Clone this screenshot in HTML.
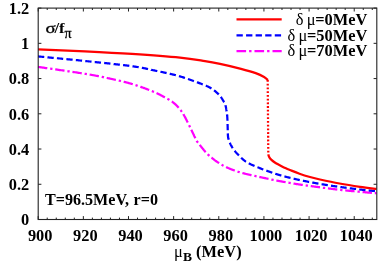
<!DOCTYPE html>
<html><head><meta charset="utf-8"><style>
html,body{margin:0;padding:0;background:#fff;}
svg{display:block;will-change:transform}
text{font-family:"Liberation Serif",serif;font-weight:bold;font-size:16.4px;fill:#000}
</style></head><body>
<svg width="382" height="267" viewBox="0 0 382 267">
<rect width="382" height="267" fill="#fff"/>
<g fill="none" stroke-width="2.25" stroke-linecap="butt">
<path d="M38.00 66.90 L38.62 66.99 L39.32 67.09 L40.07 67.20 L40.90 67.32 L41.78 67.45 L42.71 67.58 L43.70 67.72 L44.74 67.87 L45.83 68.03 L46.96 68.19 L47.30 68.24 M50.18 68.65 L50.58 68.71 L51.85 68.89 L52.45 68.97 M55.22 69.37 L55.82 69.46 L57.18 69.65 L58.55 69.85 L59.94 70.05 L61.33 70.25 L62.73 70.45 L64.13 70.66 L64.53 70.71 M67.40 71.13 L68.31 71.27 L69.67 71.47 M72.44 71.87 L73.70 72.06 L74.99 72.25 L76.26 72.44 L77.49 72.63 L78.69 72.81 L79.86 72.99 L80.98 73.16 L81.74 73.28 M84.60 73.74 L85.00 73.80 L85.89 73.94 L86.75 74.09 L86.87 74.11 M89.63 74.57 L89.97 74.63 L90.72 74.76 L91.46 74.88 L92.17 75.01 L92.87 75.13 L93.55 75.26 L94.21 75.38 L94.86 75.49 L95.50 75.61 L96.12 75.73 L96.73 75.84 L97.33 75.96 L97.91 76.07 L98.49 76.18 L98.88 76.26 M101.72 76.83 L101.81 76.85 L102.35 76.96 L102.88 77.07 L103.41 77.18 L103.94 77.29 L103.97 77.30 M106.71 77.89 L107.17 77.99 L107.72 78.11 L108.28 78.23 L108.84 78.35 L109.42 78.47 L110.00 78.60 L110.59 78.73 L111.17 78.85 L111.75 78.98 L112.33 79.11 L112.90 79.23 L113.47 79.36 L114.04 79.48 L114.61 79.61 L115.17 79.73 L115.73 79.86 L115.89 79.89 M118.72 80.54 L119.06 80.62 L119.61 80.74 L120.16 80.87 L120.71 81.00 L120.96 81.06 M123.68 81.73 L123.96 81.79 L124.49 81.93 L125.03 82.07 L125.57 82.21 L126.10 82.35 L126.64 82.49 L127.18 82.63 L127.71 82.78 L128.25 82.92 L128.78 83.07 L129.32 83.22 L129.85 83.37 L130.39 83.53 L130.93 83.68 L131.46 83.84 L132.00 84.00 L132.54 84.16 L132.74 84.23 M135.51 85.10 L135.85 85.21 L136.41 85.39 L136.97 85.58 L137.53 85.76 L137.69 85.82 M140.34 86.72 L140.34 86.72 L140.90 86.92 L141.46 87.12 L142.02 87.32 L142.57 87.51 L143.12 87.71 L143.67 87.91 L144.22 88.11 L144.76 88.31 L145.30 88.51 L145.83 88.71 L146.36 88.90 L146.88 89.10 L147.39 89.29 L147.90 89.49 L148.41 89.68 L148.90 89.87 L149.16 89.97 M151.86 91.04 L152.15 91.16 L152.58 91.33 L153.00 91.50 L153.41 91.67 L153.81 91.84 L153.99 91.91 M156.54 93.05 L156.75 93.15 L157.09 93.31 L157.42 93.47 L157.74 93.63 L158.06 93.79 L158.38 93.94 L158.69 94.10 L158.99 94.25 L159.29 94.41 L159.59 94.56 L159.88 94.71 L160.16 94.86 L160.44 95.01 L160.72 95.16 L160.99 95.31 L161.26 95.46 L161.53 95.60 L161.79 95.74 L162.05 95.89 L162.31 96.03 L162.56 96.17 L162.81 96.31 L163.06 96.45 L163.31 96.58 L163.56 96.72 L163.80 96.85 L164.04 96.98 L164.28 97.11 L164.52 97.24 L164.76 97.37 L164.86 97.43 M167.42 98.79 L167.50 98.83 L167.68 98.93 L167.86 99.02 L168.04 99.12 L168.21 99.21 L168.38 99.31 L168.55 99.40 L168.71 99.49 L168.88 99.59 L169.04 99.68 L169.20 99.77 L169.35 99.86 L169.43 99.91 M171.78 101.44 L171.84 101.48 L172.00 101.60 L172.16 101.72 L172.32 101.84 L172.48 101.96 L172.64 102.08 L172.80 102.19 L172.96 102.31 L173.11 102.43 L173.27 102.55 L173.42 102.67 L173.57 102.80 L173.73 102.92 L173.88 103.04 L174.03 103.16 L174.18 103.29 L174.33 103.41 L174.48 103.54 L174.63 103.66 L174.77 103.79 L174.92 103.92 L175.07 104.05 L175.22 104.18 L175.36 104.31 L175.51 104.45 L175.66 104.58 L175.80 104.72 L175.95 104.86 L176.09 105.00 L176.24 105.14 L176.38 105.28 L176.53 105.43 L176.68 105.58 L176.82 105.73 L176.97 105.88 L177.11 106.03 L177.26 106.19 L177.41 106.34 L177.56 106.50 L177.70 106.67 L177.85 106.83 L178.00 107.00 L178.15 107.17 L178.30 107.34 L178.44 107.50 L178.59 107.67 L178.68 107.78 M180.52 110.02 L180.57 110.07 L180.71 110.26 L180.85 110.44 L180.99 110.63 L181.13 110.83 L181.28 111.03 L181.42 111.23 L181.57 111.43 L181.71 111.64 L181.86 111.85 L181.88 111.88 M183.39 114.23 L183.40 114.26 L183.57 114.53 L183.73 114.81 L183.90 115.10 L184.07 115.40 L184.25 115.70 L184.42 116.02 L184.61 116.35 L184.79 116.69 L184.98 117.04 L185.17 117.40 L185.36 117.76 L185.56 118.14 L185.75 118.52 L185.95 118.91 L186.15 119.30 L186.35 119.70 L186.56 120.10 L186.76 120.50 L186.97 120.91 L187.17 121.33 L187.38 121.74 L187.58 122.16 L187.77 122.54 M189.04 125.15 L189.20 125.47 L189.39 125.88 L189.59 126.27 L189.78 126.67 L189.97 127.06 L190.05 127.22 M191.27 129.74 L191.35 129.89 L191.50 130.20 L191.65 130.50 L191.80 130.80 L191.94 131.10 L192.08 131.39 L192.22 131.67 L192.36 131.96 L192.49 132.23 L192.62 132.51 L192.75 132.78 L192.88 133.05 L193.00 133.31 L193.13 133.57 L193.25 133.82 L193.36 134.07 L193.48 134.32 L193.60 134.57 L193.71 134.81 L193.82 135.05 L193.93 135.28 L194.04 135.51 L194.14 135.74 L194.25 135.96 L194.35 136.19 L194.46 136.40 L194.56 136.62 L194.66 136.83 L194.76 137.04 L194.86 137.25 L194.96 137.45 L195.05 137.65 L195.15 137.85 L195.25 138.04 L195.33 138.21 M196.69 140.78 L196.70 140.81 L196.75 140.90 L196.80 140.99 L196.85 141.08 L196.90 141.17 L196.94 141.25 L196.99 141.33 L197.04 141.41 L197.08 141.48 L197.13 141.56 L197.18 141.64 L197.23 141.71 L197.28 141.79 L197.34 141.87 L197.40 141.96 L197.46 142.04 L197.52 142.13 L197.59 142.22 L197.66 142.32 L197.74 142.42 L197.82 142.52 L197.91 142.64 L197.95 142.69 M199.70 144.88 L199.86 145.08 L200.05 145.32 L200.25 145.57 L200.45 145.83 L200.66 146.09 L200.87 146.35 L201.08 146.62 L201.30 146.90 L201.53 147.18 L201.76 147.47 L201.99 147.76 L202.23 148.05 L202.47 148.35 L202.71 148.65 L202.96 148.95 L203.21 149.25 L203.46 149.55 L203.72 149.86 L203.97 150.17 L204.23 150.47 L204.50 150.78 L204.76 151.09 L205.03 151.39 L205.30 151.69 L205.57 152.00 L205.69 152.13 M207.69 154.23 L207.77 154.31 L208.05 154.58 L208.32 154.84 L208.60 155.10 L208.88 155.35 L209.16 155.61 L209.37 155.80 M211.50 157.62 L211.52 157.63 L211.83 157.88 L212.13 158.13 L212.44 158.38 L212.76 158.63 L213.07 158.87 L213.39 159.12 L213.70 159.36 L214.02 159.60 L214.34 159.84 L214.66 160.08 L214.98 160.32 L215.31 160.55 L215.63 160.79 L215.95 161.02 L216.28 161.25 L216.60 161.48 L216.93 161.70 L217.25 161.92 L217.58 162.14 L217.90 162.36 L218.22 162.58 L218.55 162.79 L218.87 163.00 L219.09 163.15 M221.56 164.67 L221.73 164.77 L222.04 164.95 L222.36 165.13 L222.67 165.31 L222.98 165.48 L223.30 165.65 L223.57 165.79 M226.07 167.04 L226.13 167.07 L226.45 167.21 L226.76 167.36 L227.08 167.50 L227.39 167.64 L227.71 167.78 L228.02 167.92 L228.34 168.06 L228.66 168.19 L228.97 168.33 L229.29 168.46 L229.60 168.59 L229.92 168.72 L230.23 168.85 L230.55 168.97 L230.86 169.10 L231.18 169.22 L231.49 169.35 L231.81 169.47 L232.12 169.59 L232.44 169.72 L232.75 169.84 L233.07 169.96 L233.38 170.08 L233.70 170.20 L234.01 170.32 L234.32 170.43 L234.61 170.54 L234.77 170.60 M237.50 171.57 L237.61 171.61 L237.88 171.70 L238.14 171.78 L238.41 171.87 L238.67 171.95 L238.94 172.04 L239.22 172.12 L239.50 172.20 L239.69 172.26 M242.39 173.01 L242.62 173.07 L242.98 173.16 L243.35 173.26 L243.73 173.36 L244.13 173.46 L244.53 173.56 L244.95 173.67 L245.39 173.77 L245.84 173.89 L246.30 174.00 L246.78 174.12 L247.29 174.24 L247.82 174.37 L248.38 174.50 L248.95 174.63 L249.55 174.77 L250.16 174.91 L250.78 175.05 L251.43 175.20 L251.53 175.22 M254.36 175.85 L254.82 175.95 L255.52 176.10 L256.23 176.26 L256.61 176.34 M259.34 176.93 L259.82 177.04 L260.53 177.19 L261.24 177.34 L261.95 177.49 L262.65 177.64 L263.34 177.79 L264.02 177.93 L264.69 178.08 L265.35 178.22 L265.99 178.35 L266.62 178.49 L267.24 178.62 L267.83 178.74 L268.41 178.86 L268.54 178.89 M271.37 179.49 L271.40 179.50 L271.81 179.59 L272.19 179.67 L272.55 179.75 L272.88 179.82 L273.19 179.88 L273.48 179.95 L273.62 179.98 M276.36 180.55 L276.44 180.56 L276.57 180.59 L276.70 180.61 L276.84 180.64 L276.99 180.66 L277.14 180.69 L277.30 180.72 L277.47 180.75 L277.65 180.78 L277.85 180.82 L278.05 180.86 L278.28 180.89 L278.52 180.94 L278.77 180.98 L279.05 181.03 L279.34 181.08 L279.66 181.14 L280.00 181.20 L280.36 181.26 L280.73 181.33 L281.11 181.40 L281.50 181.47 L281.91 181.54 L282.32 181.61 L282.75 181.69 L283.19 181.77 L283.63 181.84 L284.09 181.92 L284.55 182.01 L285.02 182.09 L285.49 182.17 L285.62 182.19 M288.48 182.69 L288.49 182.69 L289.01 182.78 L289.53 182.87 L290.05 182.96 L290.58 183.05 L290.74 183.08 M293.50 183.54 L293.77 183.58 L294.30 183.67 L294.83 183.76 L295.36 183.85 L295.89 183.93 L296.42 184.02 L296.94 184.10 L297.46 184.18 L297.98 184.26 L298.49 184.34 L299.00 184.42 L299.50 184.50 L300.00 184.58 L300.50 184.65 L301.01 184.73 L301.51 184.80 L302.02 184.88 L302.53 184.95 L302.79 184.99 M305.66 185.39 L306.12 185.46 L306.64 185.53 L307.16 185.60 L307.68 185.67 L307.94 185.71 M310.72 186.08 L310.79 186.09 L311.31 186.16 L311.82 186.23 L312.34 186.29 L312.86 186.36 L313.38 186.43 L313.89 186.50 L314.41 186.57 L314.92 186.63 L315.44 186.70 L315.95 186.77 L316.46 186.83 L316.97 186.90 L317.48 186.97 L317.99 187.03 L318.49 187.10 L319.00 187.17 L319.50 187.23 L320.00 187.30 L320.04 187.30 M322.91 187.69 L322.97 187.70 L323.46 187.76 L323.95 187.83 L324.44 187.89 L324.92 187.96 L325.19 187.99 M327.97 188.36 L328.31 188.41 L328.79 188.47 L329.27 188.54 L329.75 188.60 L330.23 188.66 L330.71 188.73 L331.19 188.79 L331.68 188.85 L332.16 188.91 L332.64 188.97 L333.12 189.04 L333.61 189.10 L334.09 189.16 L334.58 189.22 L335.06 189.28 L335.55 189.34 L336.04 189.40 L336.53 189.45 L337.02 189.51 L337.29 189.55 M340.17 189.87 L340.51 189.91 L341.02 189.97 L341.53 190.02 L342.04 190.08 L342.46 190.12 M345.24 190.41 L345.70 190.45 L346.23 190.50 L346.76 190.56 L347.29 190.61 L347.82 190.66 L348.35 190.71 L348.88 190.76 L349.41 190.81 L349.94 190.86 L350.47 190.91 L350.99 190.96 L351.52 191.01 L352.04 191.06 L352.56 191.11 L353.08 191.16 L353.60 191.20 L354.11 191.25 L354.60 191.30 M357.49 191.57 L357.62 191.58 L358.11 191.62 L358.59 191.67 L359.06 191.71 L359.53 191.76 L359.78 191.78 M362.57 192.04 L362.85 192.07 L363.33 192.11 L363.82 192.16 L364.31 192.20 L364.79 192.25 L365.28 192.29 L365.76 192.33 L366.25 192.38 L366.73 192.42 L367.21 192.47 L367.68 192.51 L368.15 192.55 L368.62 192.59 L369.08 192.63 L369.53 192.68 L369.98 192.72 L370.42 192.75 L370.85 192.79 L371.28 192.83 L371.70 192.87 L371.93 192.89 M374.82 193.15 L374.96 193.16 L375.25 193.19 L375.54 193.21 L375.80 193.24 L376.05 193.26 L376.28 193.28 L376.50 193.30 " stroke="#ff00ff"/>
<path d="M38.00 56.40 L38.62 56.46 L39.29 56.53 L40.02 56.60 L40.80 56.67 L41.63 56.75 L42.50 56.83 L43.43 56.92 L44.27 57.00 M47.46 57.31 L47.53 57.32 L48.65 57.42 L49.80 57.53 L50.97 57.65 L52.18 57.76 L53.42 57.88 L53.73 57.91 M56.91 58.22 L57.25 58.25 L58.56 58.38 L59.89 58.50 L61.23 58.63 L62.58 58.76 L63.18 58.82 M66.37 59.13 L66.68 59.16 L68.05 59.30 L69.42 59.43 L70.79 59.57 L72.15 59.70 L72.64 59.75 M75.82 60.07 L76.18 60.10 L77.50 60.23 L78.80 60.36 L80.09 60.50 L81.35 60.62 L82.09 60.70 M85.27 61.03 L86.18 61.12 L87.38 61.25 L88.59 61.37 L89.81 61.50 L91.04 61.63 L91.54 61.68 M94.72 62.01 L94.78 62.01 L96.05 62.15 L97.31 62.28 L98.58 62.41 L99.86 62.54 L100.99 62.66 M104.17 62.99 L104.95 63.08 L106.22 63.21 L107.49 63.34 L108.75 63.48 L110.00 63.61 L110.44 63.66 M113.62 64.00 L113.71 64.02 L114.93 64.15 L116.13 64.28 L117.32 64.42 L118.50 64.55 L119.66 64.68 L119.88 64.70 M123.06 65.07 L124.14 65.20 L125.20 65.33 L126.25 65.46 L127.27 65.58 L128.27 65.71 L129.25 65.83 L129.31 65.84 M132.48 66.27 L132.86 66.32 L133.69 66.44 L134.49 66.55 L135.26 66.67 L136.01 66.78 L136.73 66.89 L137.43 67.00 L138.10 67.11 L138.71 67.21 M141.86 67.77 L142.29 67.85 L142.83 67.95 L143.36 68.05 L143.87 68.16 L144.38 68.26 L144.88 68.36 L145.37 68.47 L145.85 68.57 L146.33 68.67 L146.81 68.78 L147.28 68.88 L147.76 68.99 L148.03 69.05 M151.15 69.75 L151.16 69.76 L151.67 69.87 L152.19 69.99 L152.73 70.11 L153.27 70.23 L153.83 70.35 L154.41 70.47 L155.00 70.60 L155.60 70.73 L156.20 70.85 L156.81 70.98 L157.31 71.09 M160.44 71.74 L160.49 71.75 L161.11 71.88 L161.73 72.01 L162.35 72.14 L162.98 72.27 L163.60 72.40 L164.23 72.54 L164.86 72.67 L165.48 72.81 L166.11 72.94 L166.60 73.05 M169.73 73.75 L169.90 73.79 L170.54 73.94 L171.17 74.09 L171.80 74.24 L172.44 74.39 L173.07 74.54 L173.70 74.70 L174.34 74.86 L174.97 75.02 L175.60 75.18 L175.85 75.25 M178.93 76.09 L179.37 76.22 L180.00 76.40 L180.63 76.59 L181.27 76.78 L181.92 76.98 L182.58 77.19 L183.24 77.40 L183.91 77.61 L184.59 77.83 L184.95 77.95 M187.98 78.97 L188.04 78.99 L188.74 79.23 L189.43 79.47 L190.13 79.72 L190.83 79.96 L191.52 80.21 L192.21 80.46 L192.89 80.70 L193.57 80.95 L193.92 81.08 M196.92 82.18 L197.52 82.41 L198.15 82.64 L198.76 82.88 L199.37 83.11 L199.96 83.33 L200.54 83.55 L201.10 83.77 L201.65 83.98 L202.18 84.19 L202.70 84.39 L202.81 84.43 M205.78 85.62 L205.78 85.62 L206.15 85.77 L206.49 85.91 L206.82 86.06 L207.14 86.19 L207.43 86.33 L207.72 86.46 L207.99 86.58 L208.24 86.70 L208.49 86.82 L208.72 86.93 L208.94 87.05 L209.15 87.15 L209.34 87.26 L209.53 87.36 L209.71 87.46 L209.88 87.56 L210.04 87.66 L210.20 87.75 L210.35 87.84 L210.49 87.93 L210.63 88.02 L210.76 88.11 L210.89 88.20 L211.02 88.28 L211.14 88.37 L211.27 88.45 L211.36 88.52 M214.01 90.30 L214.12 90.38 L214.24 90.47 L214.35 90.55 L214.46 90.63 L214.57 90.71 L214.67 90.79 L214.78 90.88 L214.88 90.96 L214.98 91.04 L215.08 91.11 L215.18 91.19 L215.27 91.27 L215.36 91.35 L215.46 91.43 L215.55 91.51 L215.64 91.59 L215.73 91.67 L215.82 91.74 L215.91 91.82 L216.00 91.90 L216.09 91.98 L216.18 92.06 L216.27 92.14 L216.36 92.22 L216.45 92.30 L216.54 92.38 L216.63 92.47 L216.72 92.55 L216.81 92.63 L216.91 92.72 L217.00 92.80 L217.09 92.88 L217.19 92.97 L217.28 93.05 L217.38 93.14 L217.47 93.22 L217.56 93.31 L217.65 93.39 L217.74 93.48 L217.83 93.56 L217.93 93.65 L218.01 93.73 L218.10 93.82 L218.19 93.90 L218.28 93.99 L218.37 94.08 L218.46 94.16 L218.54 94.25 L218.63 94.33 L218.71 94.42 L218.75 94.45 M220.84 96.87 L220.91 96.96 L220.97 97.06 L221.04 97.15 L221.11 97.25 L221.18 97.34 L221.25 97.44 L221.31 97.54 L221.38 97.64 L221.44 97.73 L221.51 97.83 L221.57 97.93 L221.64 98.03 L221.70 98.13 L221.76 98.22 L221.83 98.32 L221.89 98.42 L221.95 98.52 L222.01 98.63 L222.07 98.73 L222.14 98.83 L222.20 98.93 L222.26 99.03 L222.32 99.14 L222.38 99.24 L222.44 99.34 L222.51 99.45 L222.57 99.55 L222.63 99.66 L222.69 99.76 L222.75 99.87 L222.81 99.98 L222.88 100.08 L222.94 100.19 L223.00 100.30 L223.06 100.41 L223.13 100.51 L223.19 100.62 L223.25 100.72 L223.31 100.82 L223.38 100.92 L223.44 101.01 L223.50 101.11 L223.57 101.21 L223.63 101.30 L223.69 101.40 L223.76 101.49 L223.82 101.59 L223.88 101.68 L223.95 101.78 L224.01 101.88 L224.07 101.97 L224.13 102.07 L224.19 102.17 L224.21 102.19 M225.44 105.13 L225.45 105.19 L225.50 105.38 L225.55 105.58 L225.60 105.79 L225.65 106.00 L225.70 106.21 L225.75 106.43 L225.80 106.66 L225.85 106.89 L225.90 107.13 L225.95 107.37 L226.00 107.61 L226.05 107.86 L226.09 108.11 L226.14 108.36 L226.19 108.62 L226.23 108.88 L226.28 109.14 L226.32 109.40 L226.37 109.67 L226.41 109.94 L226.46 110.20 L226.50 110.47 L226.54 110.75 L226.58 111.02 L226.62 111.29 L226.63 111.31 M227.04 114.49 L227.04 114.49 L227.07 114.75 L227.10 115.00 L227.13 115.25 L227.15 115.50 L227.18 115.75 L227.20 116.00 L227.22 116.25 L227.24 116.50 L227.26 116.75 L227.28 117.00 L227.30 117.25 L227.31 117.50 L227.33 117.75 L227.34 118.00 L227.36 118.25 L227.37 118.50 L227.38 118.75 L227.40 119.00 L227.41 119.25 L227.42 119.50 L227.43 119.75 L227.44 120.00 L227.45 120.25 L227.46 120.50 L227.46 120.75 L227.46 120.77 M227.56 123.97 L227.56 124.00 L227.57 124.25 L227.58 124.50 L227.59 124.75 L227.60 125.00 L227.61 125.25 L227.62 125.51 L227.63 125.76 L227.64 126.02 L227.64 126.29 L227.65 126.55 L227.66 126.82 L227.67 127.09 L227.67 127.36 L227.68 127.63 L227.69 127.90 L227.69 128.17 L227.70 128.45 L227.70 128.72 L227.71 128.99 L227.72 129.26 L227.72 129.54 L227.73 129.81 L227.73 130.08 L227.74 130.27 M227.82 133.47 L227.83 133.58 L227.84 133.80 L227.84 134.01 L227.85 134.22 L227.87 134.43 L227.88 134.62 L227.89 134.82 L227.90 135.00 L227.91 135.18 L227.92 135.35 L227.94 135.51 L227.95 135.67 L227.96 135.83 L227.97 135.97 L227.98 136.12 L228.00 136.25 L228.01 136.38 L228.02 136.51 L228.03 136.64 L228.05 136.75 L228.06 136.87 L228.07 136.98 L228.08 137.09 L228.10 137.20 L228.11 137.30 L228.13 137.40 L228.14 137.50 L228.16 137.59 L228.17 137.69 L228.19 137.78 L228.20 137.87 L228.22 137.96 L228.24 138.05 L228.26 138.14 L228.28 138.23 L228.30 138.32 L228.32 138.41 L228.34 138.50 L228.36 138.60 L228.38 138.69 L228.41 138.78 L228.43 138.88 L228.46 138.98 L228.48 139.07 L228.51 139.18 L228.54 139.28 L228.57 139.39 L228.60 139.50 L228.63 139.61 L228.65 139.69 M229.78 142.68 L229.82 142.76 L229.87 142.88 L229.92 142.99 L229.97 143.10 L230.02 143.21 L230.08 143.32 L230.13 143.44 L230.18 143.55 L230.24 143.66 L230.29 143.78 L230.35 143.89 L230.40 144.00 L230.45 144.11 L230.51 144.22 L230.56 144.33 L230.62 144.45 L230.67 144.56 L230.73 144.67 L230.78 144.77 L230.84 144.88 L230.89 144.99 L230.95 145.10 L231.01 145.21 L231.06 145.32 L231.12 145.43 L231.18 145.54 L231.23 145.64 L231.29 145.75 L231.35 145.86 L231.41 145.97 L231.47 146.08 L231.53 146.19 L231.59 146.30 L231.66 146.41 L231.72 146.52 L231.78 146.63 L231.85 146.74 L231.92 146.85 L231.99 146.96 L232.06 147.08 L232.13 147.19 L232.20 147.30 L232.27 147.42 L232.35 147.54 L232.42 147.65 L232.50 147.77 L232.58 147.89 L232.66 148.01 L232.74 148.13 L232.79 148.21 M234.67 150.80 L234.76 150.90 L234.86 151.04 L234.97 151.17 L235.08 151.31 L235.19 151.44 L235.30 151.58 L235.41 151.72 L235.53 151.86 L235.65 152.00 L235.77 152.14 L235.90 152.29 L236.03 152.43 L236.16 152.58 L236.29 152.73 L236.43 152.88 L236.57 153.04 L236.72 153.19 L236.87 153.35 L237.02 153.51 L237.18 153.67 L237.34 153.83 L237.50 154.00 L237.67 154.17 L237.84 154.34 L238.01 154.52 L238.19 154.70 L238.37 154.89 L238.55 155.08 L238.74 155.27 L238.91 155.45 M241.17 157.71 L241.18 157.72 L241.40 157.93 L241.62 158.14 L241.85 158.35 L242.08 158.57 L242.31 158.78 L242.54 158.99 L242.78 159.19 L243.01 159.40 L243.25 159.61 L243.49 159.81 L243.74 160.02 L243.99 160.22 L244.23 160.42 L244.49 160.61 L244.74 160.81 L244.99 161.00 L245.25 161.18 L245.51 161.37 L245.77 161.55 L246.02 161.72 M248.79 163.33 L248.86 163.37 L249.16 163.52 L249.47 163.68 L249.77 163.83 L250.08 163.98 L250.40 164.13 L250.71 164.28 L251.03 164.42 L251.35 164.57 L251.67 164.71 L251.99 164.86 L252.31 165.00 L252.64 165.14 L252.96 165.28 L253.29 165.42 L253.62 165.56 L253.94 165.70 L254.27 165.83 L254.52 165.94 M257.48 167.15 L257.53 167.17 L257.85 167.31 L258.17 167.44 L258.49 167.57 L258.80 167.70 L259.11 167.83 L259.43 167.96 L259.75 168.09 L260.06 168.22 L260.38 168.35 L260.70 168.48 L261.02 168.60 L261.34 168.73 L261.66 168.86 L261.99 168.98 L262.31 169.11 L262.63 169.23 L262.95 169.36 L263.27 169.48 L263.33 169.50 M266.33 170.61 L266.48 170.67 L266.80 170.78 L267.12 170.89 L267.43 171.01 L267.75 171.12 L268.06 171.23 L268.37 171.34 L268.68 171.45 L268.99 171.56 L269.30 171.67 L269.61 171.78 L269.91 171.88 L270.21 171.99 L270.51 172.09 L270.81 172.20 L271.11 172.30 L271.40 172.40 L271.69 172.50 L271.97 172.60 L272.25 172.69 L272.27 172.70 M275.30 173.74 L275.54 173.82 L275.78 173.89 L276.02 173.97 L276.26 174.05 L276.51 174.13 L276.75 174.21 L277.00 174.29 L277.25 174.37 L277.50 174.44 L277.75 174.52 L278.01 174.60 L278.27 174.68 L278.54 174.76 L278.81 174.84 L279.09 174.92 L279.37 175.01 L279.65 175.09 L279.95 175.17 L280.24 175.26 L280.55 175.35 L280.86 175.43 L281.19 175.52 L281.33 175.56 M284.42 176.39 L284.80 176.49 L285.19 176.59 L285.59 176.70 L285.99 176.80 L286.40 176.91 L286.81 177.01 L287.23 177.12 L287.65 177.22 L288.07 177.33 L288.50 177.44 L288.93 177.54 L289.36 177.65 L289.80 177.76 L290.24 177.87 L290.53 177.94 M293.64 178.68 L293.87 178.74 L294.33 178.84 L294.80 178.95 L295.26 179.06 L295.73 179.17 L296.20 179.27 L296.67 179.38 L297.14 179.48 L297.61 179.59 L298.08 179.69 L298.56 179.80 L299.03 179.90 L299.50 180.00 L299.79 180.06 M302.92 180.71 L303.41 180.81 L303.92 180.92 L304.42 181.02 L304.93 181.12 L305.45 181.22 L305.96 181.32 L306.48 181.42 L307.00 181.52 L307.52 181.62 L308.04 181.73 L308.56 181.83 L309.09 181.93 L309.10 181.93 M312.25 182.52 L312.77 182.61 L313.30 182.71 L313.82 182.81 L314.35 182.90 L314.87 183.00 L315.39 183.09 L315.91 183.18 L316.43 183.27 L316.95 183.37 L317.46 183.46 L317.98 183.55 L318.45 183.63 M321.60 184.17 L321.99 184.24 L322.48 184.32 L322.97 184.40 L323.46 184.48 L323.95 184.56 L324.44 184.64 L324.92 184.72 L325.41 184.80 L325.89 184.88 L326.38 184.96 L326.86 185.03 L327.34 185.11 L327.82 185.18 M330.98 185.67 L331.19 185.70 L331.68 185.77 L332.16 185.84 L332.64 185.92 L333.12 185.99 L333.61 186.06 L334.09 186.13 L334.58 186.20 L335.06 186.27 L335.55 186.34 L336.04 186.41 L336.53 186.48 L337.02 186.55 L337.22 186.58 M340.38 187.02 L340.51 187.04 L341.02 187.11 L341.53 187.18 L342.04 187.25 L342.56 187.32 L343.08 187.39 L343.60 187.46 L344.12 187.53 L344.65 187.60 L345.17 187.67 L345.70 187.74 L346.23 187.81 L346.63 187.86 M349.80 188.26 L349.94 188.28 L350.47 188.35 L350.99 188.41 L351.52 188.48 L352.04 188.54 L352.56 188.61 L353.08 188.67 L353.60 188.74 L354.11 188.80 L354.62 188.86 L355.13 188.92 L355.64 188.98 L356.06 189.03 M359.23 189.41 L359.53 189.45 L360.00 189.50 L360.47 189.55 L360.93 189.61 L361.41 189.66 L361.89 189.71 L362.37 189.77 L362.85 189.82 L363.33 189.87 L363.82 189.92 L364.31 189.98 L364.79 190.03 L365.28 190.08 L365.50 190.10 M368.68 190.43 L369.08 190.47 L369.53 190.51 L369.98 190.56 L370.42 190.60 L370.85 190.64 L371.28 190.69 L371.70 190.73 L372.10 190.77 L372.50 190.81 L372.89 190.84 L373.26 190.88 L373.63 190.92 L373.98 190.95 L374.32 190.98 L374.65 191.02 L374.95 191.04 " stroke="#0000ff"/>
<path d="M38.00 49.30 C45.83 49.63 69.33 50.53 85.00 51.30 C100.67 52.07 116.17 52.85 132.00 53.90 C147.83 54.95 167.83 56.40 180.00 57.60 C192.17 58.80 198.33 60.05 205.00 61.10 C211.67 62.15 214.00 62.62 220.00 63.90 C226.00 65.18 235.05 67.27 241.00 68.80 C246.95 70.33 251.85 71.75 255.70 73.10 C259.55 74.45 262.07 75.75 264.10 76.90 C266.13 78.05 267.27 79.48 267.90 80.00" stroke="#ff0000"/>
<path d="M268.30 154.80 C268.50 155.27 268.97 156.75 269.50 157.60 C270.03 158.45 270.67 159.13 271.50 159.90 C272.33 160.67 273.42 161.47 274.50 162.20 C275.58 162.93 276.75 163.60 278.00 164.30 C279.25 165.00 280.67 165.73 282.00 166.40 C283.33 167.07 284.67 167.70 286.00 168.30 C287.33 168.90 287.75 169.10 290.00 170.00 C292.25 170.90 296.17 172.53 299.50 173.70 C302.83 174.87 306.58 176.03 310.00 177.00 C313.42 177.97 315.08 178.42 320.00 179.50 C324.92 180.58 332.83 182.28 339.50 183.50 C346.17 184.72 353.83 185.90 360.00 186.80 C366.17 187.70 373.75 188.55 376.50 188.90" stroke="#ff0000"/>
<path d="M267.7 80.05 L268.3 155" stroke="#ff0000" stroke-dasharray="1.8 1.92"/>
</g>

<g stroke="#222" stroke-width="1"><line x1="38.20" y1="219.50" x2="38.20" y2="216.10"/><line x1="38.20" y1="8.10" x2="38.20" y2="11.50"/><line x1="47.23" y1="219.50" x2="47.23" y2="217.60"/><line x1="47.23" y1="8.10" x2="47.23" y2="10.00"/><line x1="56.26" y1="219.50" x2="56.26" y2="217.60"/><line x1="56.26" y1="8.10" x2="56.26" y2="10.00"/><line x1="65.29" y1="219.50" x2="65.29" y2="217.60"/><line x1="65.29" y1="8.10" x2="65.29" y2="10.00"/><line x1="74.32" y1="219.50" x2="74.32" y2="217.60"/><line x1="74.32" y1="8.10" x2="74.32" y2="10.00"/><line x1="83.35" y1="219.50" x2="83.35" y2="216.10"/><line x1="83.35" y1="8.10" x2="83.35" y2="11.50"/><line x1="92.38" y1="219.50" x2="92.38" y2="217.60"/><line x1="92.38" y1="8.10" x2="92.38" y2="10.00"/><line x1="101.41" y1="219.50" x2="101.41" y2="217.60"/><line x1="101.41" y1="8.10" x2="101.41" y2="10.00"/><line x1="110.43" y1="219.50" x2="110.43" y2="217.60"/><line x1="110.43" y1="8.10" x2="110.43" y2="10.00"/><line x1="119.46" y1="219.50" x2="119.46" y2="217.60"/><line x1="119.46" y1="8.10" x2="119.46" y2="10.00"/><line x1="128.49" y1="219.50" x2="128.49" y2="216.10"/><line x1="128.49" y1="8.10" x2="128.49" y2="11.50"/><line x1="137.52" y1="219.50" x2="137.52" y2="217.60"/><line x1="137.52" y1="8.10" x2="137.52" y2="10.00"/><line x1="146.55" y1="219.50" x2="146.55" y2="217.60"/><line x1="146.55" y1="8.10" x2="146.55" y2="10.00"/><line x1="155.58" y1="219.50" x2="155.58" y2="217.60"/><line x1="155.58" y1="8.10" x2="155.58" y2="10.00"/><line x1="164.61" y1="219.50" x2="164.61" y2="217.60"/><line x1="164.61" y1="8.10" x2="164.61" y2="10.00"/><line x1="173.64" y1="219.50" x2="173.64" y2="216.10"/><line x1="173.64" y1="8.10" x2="173.64" y2="11.50"/><line x1="182.67" y1="219.50" x2="182.67" y2="217.60"/><line x1="182.67" y1="8.10" x2="182.67" y2="10.00"/><line x1="191.70" y1="219.50" x2="191.70" y2="217.60"/><line x1="191.70" y1="8.10" x2="191.70" y2="10.00"/><line x1="200.73" y1="219.50" x2="200.73" y2="217.60"/><line x1="200.73" y1="8.10" x2="200.73" y2="10.00"/><line x1="209.76" y1="219.50" x2="209.76" y2="217.60"/><line x1="209.76" y1="8.10" x2="209.76" y2="10.00"/><line x1="218.79" y1="219.50" x2="218.79" y2="216.10"/><line x1="218.79" y1="8.10" x2="218.79" y2="11.50"/><line x1="227.82" y1="219.50" x2="227.82" y2="217.60"/><line x1="227.82" y1="8.10" x2="227.82" y2="10.00"/><line x1="236.85" y1="219.50" x2="236.85" y2="217.60"/><line x1="236.85" y1="8.10" x2="236.85" y2="10.00"/><line x1="245.87" y1="219.50" x2="245.87" y2="217.60"/><line x1="245.87" y1="8.10" x2="245.87" y2="10.00"/><line x1="254.90" y1="219.50" x2="254.90" y2="217.60"/><line x1="254.90" y1="8.10" x2="254.90" y2="10.00"/><line x1="263.93" y1="219.50" x2="263.93" y2="216.10"/><line x1="263.93" y1="8.10" x2="263.93" y2="11.50"/><line x1="272.96" y1="219.50" x2="272.96" y2="217.60"/><line x1="272.96" y1="8.10" x2="272.96" y2="10.00"/><line x1="281.99" y1="219.50" x2="281.99" y2="217.60"/><line x1="281.99" y1="8.10" x2="281.99" y2="10.00"/><line x1="291.02" y1="219.50" x2="291.02" y2="217.60"/><line x1="291.02" y1="8.10" x2="291.02" y2="10.00"/><line x1="300.05" y1="219.50" x2="300.05" y2="217.60"/><line x1="300.05" y1="8.10" x2="300.05" y2="10.00"/><line x1="309.08" y1="219.50" x2="309.08" y2="216.10"/><line x1="309.08" y1="8.10" x2="309.08" y2="11.50"/><line x1="318.11" y1="219.50" x2="318.11" y2="217.60"/><line x1="318.11" y1="8.10" x2="318.11" y2="10.00"/><line x1="327.14" y1="219.50" x2="327.14" y2="217.60"/><line x1="327.14" y1="8.10" x2="327.14" y2="10.00"/><line x1="336.17" y1="219.50" x2="336.17" y2="217.60"/><line x1="336.17" y1="8.10" x2="336.17" y2="10.00"/><line x1="345.20" y1="219.50" x2="345.20" y2="217.60"/><line x1="345.20" y1="8.10" x2="345.20" y2="10.00"/><line x1="354.23" y1="219.50" x2="354.23" y2="216.10"/><line x1="354.23" y1="8.10" x2="354.23" y2="11.50"/><line x1="363.26" y1="219.50" x2="363.26" y2="217.60"/><line x1="363.26" y1="8.10" x2="363.26" y2="10.00"/><line x1="372.29" y1="219.50" x2="372.29" y2="217.60"/><line x1="372.29" y1="8.10" x2="372.29" y2="10.00"/><line x1="38.20" y1="219.50" x2="41.40" y2="219.50"/><line x1="376.80" y1="219.50" x2="373.60" y2="219.50"/><line x1="38.20" y1="184.27" x2="41.40" y2="184.27"/><line x1="376.80" y1="184.27" x2="373.60" y2="184.27"/><line x1="38.20" y1="149.03" x2="41.40" y2="149.03"/><line x1="376.80" y1="149.03" x2="373.60" y2="149.03"/><line x1="38.20" y1="113.80" x2="41.40" y2="113.80"/><line x1="376.80" y1="113.80" x2="373.60" y2="113.80"/><line x1="38.20" y1="78.57" x2="41.40" y2="78.57"/><line x1="376.80" y1="78.57" x2="373.60" y2="78.57"/><line x1="38.20" y1="43.33" x2="41.40" y2="43.33"/><line x1="376.80" y1="43.33" x2="373.60" y2="43.33"/><line x1="38.20" y1="8.10" x2="41.40" y2="8.10"/><line x1="376.80" y1="8.10" x2="373.60" y2="8.10"/></g>

<rect x="38.2" y="8.1" width="338.6" height="211.4" fill="none" stroke="#222" stroke-width="1.1"/>
<g fill="none" stroke-width="2.25">
<line x1="236.5" y1="19.4" x2="281.7" y2="19.4" stroke="#ff0000"/>
<line x1="236.5" y1="35.3" x2="281.7" y2="35.3" stroke="#0000ff" stroke-dasharray="6.3 3.27"/>
<line x1="236.5" y1="51.2" x2="281.7" y2="51.2" stroke="#ff00ff" stroke-dasharray="9.6 3 2.4 3"/>
</g>
<text x="367.3" y="24.8" text-anchor="end"><tspan font-weight="normal" letter-spacing="-0.4">δ μ</tspan>=0MeV</text>
<text x="367.3" y="40.5" text-anchor="end"><tspan font-weight="normal" letter-spacing="-0.4">δ μ</tspan>=50MeV</text>
<text x="367.3" y="56" text-anchor="end"><tspan font-weight="normal" letter-spacing="-0.4">δ μ</tspan>=70MeV</text>
<text transform="translate(45.4,32.9) scale(1.2,1)" style="font-size:15.6px;font-weight:normal;stroke:#000;stroke-width:0.35px">σ</text>
<text transform="translate(54.4,32.9) scale(1.08,1)" style="font-size:15.6px">/f</text>
<text x="64.6" y="37.5" style="font-size:14px;font-weight:normal;stroke:#000;stroke-width:0.3px">π</text>
<text x="45" y="204.5" style="font-size:16.1px;word-spacing:0.6px">T=96.5MeV, r=0</text>
<text transform="translate(40.20,241.2) scale(1,1.06)" text-anchor="middle">900</text><text transform="translate(85.35,241.2) scale(1,1.06)" text-anchor="middle">920</text><text transform="translate(130.49,241.2) scale(1,1.06)" text-anchor="middle">940</text><text transform="translate(175.64,241.2) scale(1,1.06)" text-anchor="middle">960</text><text transform="translate(220.79,241.2) scale(1,1.06)" text-anchor="middle">980</text><text transform="translate(265.93,241.2) scale(1,1.06)" text-anchor="middle">1000</text><text transform="translate(311.08,241.2) scale(1,1.06)" text-anchor="middle">1020</text><text transform="translate(356.23,241.2) scale(1,1.06)" text-anchor="middle">1040</text><text transform="translate(29.3,225.30) scale(1,1.06)" text-anchor="end">0</text><text transform="translate(29.3,190.07) scale(1,1.06)" text-anchor="end">0.2</text><text transform="translate(29.3,154.83) scale(1,1.06)" text-anchor="end">0.4</text><text transform="translate(29.3,119.60) scale(1,1.06)" text-anchor="end">0.6</text><text transform="translate(29.3,84.37) scale(1,1.06)" text-anchor="end">0.8</text><text transform="translate(29.3,49.13) scale(1,1.06)" text-anchor="end">1</text><text transform="translate(29.3,13.90) scale(1,1.06)" text-anchor="end">1.2</text>
<text x="173.9" y="256.6" style="font-weight:normal">μ</text><text x="183" y="261.2" style="font-size:13.5px">B</text><text x="196.1" y="256.6">(MeV)</text>
</svg>
</body></html>
